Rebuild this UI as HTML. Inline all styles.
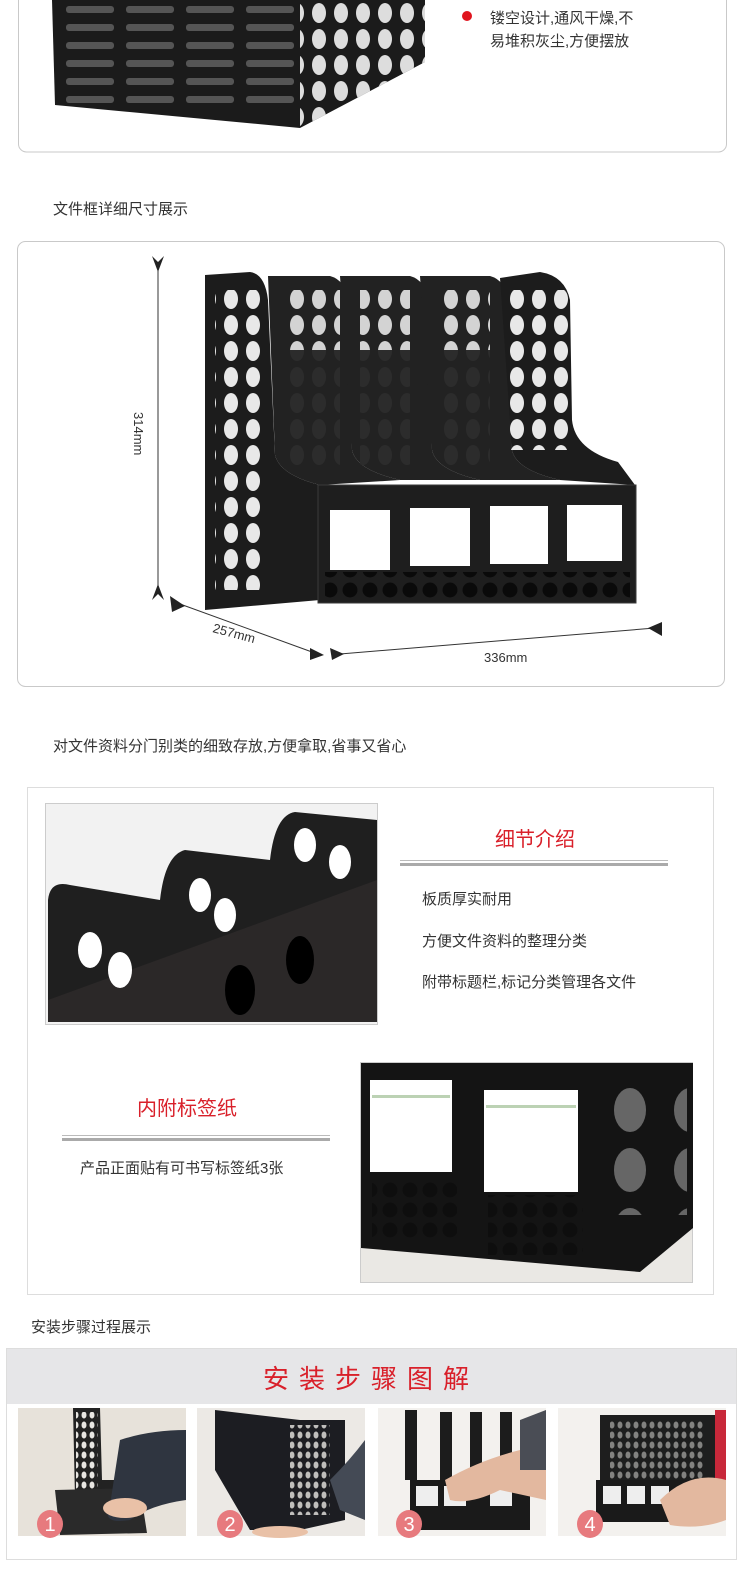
<!DOCTYPE html>
<html><head><meta charset="utf-8">
<style>
html,body{margin:0;padding:0;background:#fff;}
svg{display:block;}
text{font-family:"Liberation Sans","Noto Sans CJK SC",sans-serif;}
</style></head>
<body>
<svg width="750" height="1580" viewBox="0 0 750 1580" xmlns="http://www.w3.org/2000/svg">
<defs>
<pattern id="holes" x="0" y="0" width="22" height="26" patternUnits="userSpaceOnUse">
<ellipse cx="11" cy="13" rx="7" ry="10" fill="#fff"/>
</pattern>
<pattern id="holesd" x="0" y="0" width="22" height="26" patternUnits="userSpaceOnUse">
<ellipse cx="11" cy="13" rx="7" ry="10" fill="#2c2c2c"/>
</pattern>
<pattern id="slots" x="0" y="0" width="60" height="18" patternUnits="userSpaceOnUse">
<rect x="6" y="6" width="48" height="7" rx="3" fill="#555"/>
</pattern>
<pattern id="fronth" x="0" y="0" width="20" height="20" patternUnits="userSpaceOnUse">
<circle cx="10" cy="10" r="7.5" fill="#0a0a0a"/>
</pattern>
<pattern id="big" x="0" y="0" width="60" height="60" patternUnits="userSpaceOnUse">
<ellipse cx="30" cy="30" rx="16" ry="22" fill="#fff"/>
</pattern>
<pattern id="mini" x="0" y="0" width="8" height="10" patternUnits="userSpaceOnUse">
<ellipse cx="4" cy="5" rx="2.5" ry="3.5" fill="#e8e6e2"/>
</pattern>
</defs>

<rect x="18.5" y="-10" width="708" height="162" rx="8" fill="#fff" stroke="#c9c9c9"/>
<polygon points="52,0 425,0 425,62 300,128 55,105" fill="#1b1b1b"/>
<rect x="55" y="0" width="245" height="105" fill="url(#slots)"/>
<polygon points="300,0 425,0 425,62 300,128" fill="url(#holes)" opacity="0.85"/>
<circle cx="467" cy="16" r="5" fill="#e0141e"/>
<text x="490" y="23" font-size="15" fill="#333">镂空设计,通风干燥,不</text>
<text x="490" y="46" font-size="15" fill="#333">易堆积灰尘,方便摆放</text>

<text x="53" y="214" font-size="15" fill="#333">文件框详细尺寸展示</text>

<rect x="17.5" y="241.5" width="707" height="445" rx="8" fill="#fff" stroke="#c9c9c9"/>
<path d="M205,275 L250,272 Q265,274 268,300 L275,455 Q280,475 320,485 L320,600 L205,610 Z" fill="#1c1c1c"/>
<path d="M268,276 L330,276 Q345,280 348,300 L352,450 Q356,470 400,480 L320,485 Q280,475 275,455 Z" fill="#222"/>
<path d="M340,276 L410,276 Q425,280 428,300 L432,450 Q436,470 480,480 L400,480 Q356,470 352,450 Z" fill="#222"/>
<path d="M420,276 L490,276 Q505,280 508,300 L512,450 Q516,470 560,480 L480,480 Q436,470 432,450 Z" fill="#222"/>
<path d="M500,278 L540,272 Q565,276 570,300 L572,420 Q575,450 618,462 L635,485 L560,480 Q516,470 512,450 Z" fill="#1c1c1c"/>
<rect x="215" y="290" width="50" height="300" fill="url(#holes)" opacity="0.9"/>
<rect x="290" y="290" width="50" height="60" fill="url(#holes)" opacity="0.8"/>
<rect x="360" y="290" width="50" height="60" fill="url(#holes)" opacity="0.8"/>
<rect x="440" y="290" width="50" height="60" fill="url(#holes)" opacity="0.8"/>
<rect x="290" y="350" width="50" height="120" fill="url(#holesd)"/>
<rect x="360" y="350" width="50" height="120" fill="url(#holesd)"/>
<rect x="440" y="350" width="50" height="120" fill="url(#holesd)"/>
<rect x="510" y="290" width="66" height="160" fill="url(#holes)" opacity="0.9"/>
<rect x="318" y="485" width="318" height="118" fill="#1e1e1e" stroke="#3a3a3a"/>
<rect x="330" y="510" width="60" height="60" fill="#fff"/>
<rect x="410" y="508" width="60" height="58" fill="#fff"/>
<rect x="490" y="506" width="58" height="58" fill="#fff"/>
<rect x="567" y="505" width="55" height="56" fill="#fff"/>
<rect x="325" y="572" width="305" height="28" fill="url(#fronth)"/>
<g stroke="#333" stroke-width="1" fill="#222">
<line x1="158" y1="262" x2="158" y2="588"/>
<polygon points="152,256 158,262 164,256 158,272" stroke="none"/>
<polygon points="152,600 158,594 164,600 158,584" stroke="none"/>
<line x1="180" y1="604" x2="312" y2="652"/>
<polygon points="170,596 185,606 172,612" stroke="none"/>
<polygon points="310,648 324,655 310,660" stroke="none"/>
<line x1="340" y1="654" x2="655" y2="628"/>
<polygon points="330,648 344,654 332,660" stroke="none"/>
<polygon points="662,622 648,628 662,636" stroke="none"/>
</g>
<text transform="translate(134,412) rotate(90)" font-size="13" fill="#333">314mm</text>
<text transform="translate(212,632) rotate(15)" font-size="13" fill="#333">257mm</text>
<text x="484" y="662" font-size="13" fill="#333">336mm</text>

<text x="53" y="751" font-size="15" fill="#333">对文件资料分门别类的细致存放,方便拿取,省事又省心</text>

<rect x="27.5" y="787.5" width="686" height="507" fill="#fff" stroke="#ddd"/>
<rect x="45.5" y="803.5" width="332" height="221" fill="#f2f2f2" stroke="#ccc"/>
<path d="M48,1022 L48,900 Q50,880 70,885 L160,900 Q165,855 185,850 L270,860 Q275,815 295,812 L377,820 L377,1022 Z" fill="#1f1f1f"/>
<polygon points="48,1022 48,1000 377,880 377,1022" fill="#2b2828"/>
<ellipse cx="90" cy="950" rx="12" ry="18" fill="#fff"/>
<ellipse cx="120" cy="970" rx="12" ry="18" fill="#fff"/>
<ellipse cx="200" cy="895" rx="11" ry="17" fill="#fff"/>
<ellipse cx="225" cy="915" rx="11" ry="17" fill="#fff"/>
<ellipse cx="305" cy="845" rx="11" ry="17" fill="#fff"/>
<ellipse cx="340" cy="862" rx="11" ry="17" fill="#fff"/>
<ellipse cx="240" cy="990" rx="15" ry="25" fill="#000"/>
<ellipse cx="300" cy="960" rx="14" ry="24" fill="#000"/>
<text x="535" y="846" font-size="20" fill="#d9202a" text-anchor="middle">细节介绍</text>
<rect x="400" y="860" width="268" height="1" fill="#bbb"/>
<rect x="400" y="863" width="268" height="3" fill="#aaa"/>
<text x="422" y="904" font-size="15" fill="#333">板质厚实耐用</text>
<text x="422" y="946" font-size="15" fill="#333">方便文件资料的整理分类</text>
<text x="422" y="987" font-size="15" fill="#333">附带标题栏,标记分类管理各文件</text>

<text x="187" y="1115" font-size="20" fill="#d9202a" text-anchor="middle">内附标签纸</text>
<rect x="62" y="1135" width="268" height="1" fill="#bbb"/>
<rect x="62" y="1138" width="268" height="3" fill="#aaa"/>
<text x="80" y="1173" font-size="15" fill="#333">产品正面贴有可书写标签纸3张</text>

<rect x="360.5" y="1062.5" width="332" height="220" fill="#eae8e4" stroke="#ccc"/>
<polygon points="361,1063 693,1063 693,1228 640,1272 361,1248" fill="#141414"/>
<rect x="370" y="1080" width="82" height="92" fill="#fff"/>
<rect x="484" y="1090" width="94" height="102" fill="#fff"/>
<rect x="372" y="1095" width="78" height="3" fill="#bcd2b4"/>
<rect x="486" y="1105" width="90" height="3" fill="#bcd2b4"/>
<rect x="372" y="1178" width="85" height="60" fill="url(#fronth)" opacity="0.6"/>
<rect x="488" y="1195" width="95" height="60" fill="url(#fronth)" opacity="0.6"/>
<rect x="612" y="1075" width="75" height="140" fill="url(#big)" opacity="0.35"/>

<text x="31" y="1332" font-size="15" fill="#333">安装步骤过程展示</text>

<rect x="6.5" y="1348.5" width="730" height="211" fill="#fff" stroke="#ddd"/>
<rect x="7" y="1349" width="729" height="55" fill="#e6e6e8"/>
<text x="371" y="1388" font-size="26" fill="#d9202a" text-anchor="middle" letter-spacing="10">安装步骤图解</text>

<g>
<rect x="18" y="1408" width="168" height="128" fill="#e7e2da"/>
<path d="M73,1408 L100,1408 L102,1480 L135,1480 L135,1498 L75,1498 Z" fill="#222"/>
<rect x="76" y="1412" width="22" height="80" fill="url(#mini)"/>
<polygon points="55,1490 140,1488 147,1533 60,1535" fill="#2a2a2a"/>
<path d="M120,1440 Q150,1430 186,1430 L186,1500 Q150,1505 130,1520 Q100,1525 110,1505 Z" fill="#2f3540"/>
<ellipse cx="125" cy="1508" rx="22" ry="10" fill="#e9c1a7"/>
</g>
<g>
<rect x="197" y="1408" width="168" height="128" fill="#ece9e5"/>
<polygon points="215,1410 300,1420 345,1420 345,1520 300,1530 250,1530 215,1470" fill="#1c1d22"/>
<rect x="290" y="1425" width="40" height="90" fill="url(#mini)" opacity="0.8"/>
<path d="M330,1480 Q350,1460 365,1440 L365,1520 L340,1510 Z" fill="#444a55"/>
<ellipse cx="280" cy="1532" rx="28" ry="6" fill="#e9c1a7"/>
</g>
<g>
<rect x="378" y="1408" width="168" height="128" fill="#f3f1ee"/>
<rect x="405" y="1410" width="12" height="70" fill="#1c1c1c"/>
<rect x="440" y="1412" width="12" height="68" fill="#1c1c1c"/>
<rect x="470" y="1412" width="12" height="68" fill="#1c1c1c"/>
<rect x="500" y="1412" width="12" height="68" fill="#1c1c1c"/>
<rect x="410" y="1480" width="120" height="50" fill="#1a1a1a"/>
<rect x="416" y="1486" width="22" height="20" fill="#eee"/>
<rect x="444" y="1486" width="22" height="20" fill="#eee"/>
<rect x="490" y="1486" width="22" height="20" fill="#eee"/>
<path d="M445,1480 Q480,1460 520,1450 L546,1430 L546,1500 L500,1490 Q470,1505 450,1500 Z" fill="#e3b89f"/>
<path d="M520,1420 L546,1410 L546,1470 L520,1470 Z" fill="#4a4d55"/>
</g>
<g>
<rect x="558" y="1408" width="168" height="128" fill="#f3f1ee"/>
<rect x="600" y="1415" width="115" height="70" fill="#1e1e1e"/>
<rect x="610" y="1420" width="95" height="60" fill="url(#mini)" opacity="0.5"/>
<rect x="596" y="1480" width="112" height="42" fill="#1a1a1a"/>
<rect x="603" y="1486" width="18" height="18" fill="#eee"/>
<rect x="627" y="1486" width="18" height="18" fill="#eee"/>
<rect x="651" y="1486" width="18" height="18" fill="#eee"/>
<rect x="715" y="1410" width="11" height="80" fill="#c8283a"/>
<path d="M660,1500 Q690,1470 726,1480 L726,1520 Q700,1530 670,1525 Z" fill="#e3b89f"/>
</g>
<g font-size="20" fill="#fff" text-anchor="middle">
<ellipse cx="50" cy="1524" rx="13" ry="14" fill="#e77a7e"/><text x="50" y="1531">1</text>
<ellipse cx="230" cy="1524" rx="13" ry="14" fill="#e77a7e"/><text x="230" y="1531">2</text>
<ellipse cx="409" cy="1524" rx="13" ry="14" fill="#e77a7e"/><text x="409" y="1531">3</text>
<ellipse cx="590" cy="1524" rx="13" ry="14" fill="#e77a7e"/><text x="590" y="1531">4</text>
</g>
</svg>
</body></html>
